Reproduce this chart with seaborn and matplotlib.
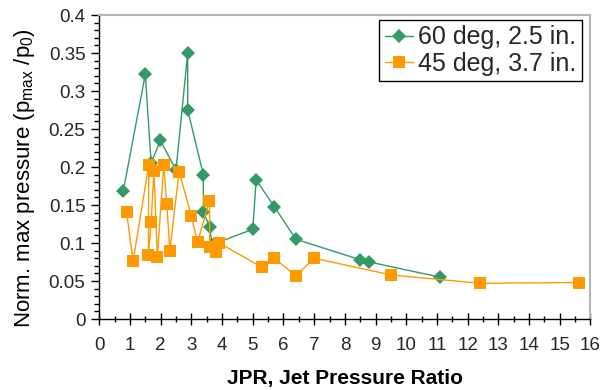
import matplotlib
matplotlib.use("Agg")
import matplotlib.pyplot as plt
from matplotlib.ticker import MultipleLocator, FixedLocator, FixedFormatter
import numpy as np
import pandas as pd
import seaborn as sns

# Series: normalized maximum pressure versus jet pressure ratio
series_names = ["60 deg, 2.5 in.", "45 deg, 3.7 in."]

jpr_60 = [0.78, 1.50, 1.69, 1.99, 2.50, 2.88, 2.88, 3.39, 3.39, 3.60, 3.67,
          5.00, 5.11, 5.70, 6.40, 8.50, 8.80, 11.11]
p_60 = [0.168, 0.322, 0.205, 0.235, 0.196, 0.350, 0.275, 0.190, 0.141, 0.121,
        0.098, 0.118, 0.183, 0.148, 0.105, 0.078, 0.075, 0.055]

jpr_45 = [0.89, 1.10, 1.61, 1.60, 1.69, 1.78, 1.89, 2.10, 2.20, 2.30, 2.60,
          3.00, 3.20, 3.59, 3.60, 3.80, 3.91, 5.30, 5.70, 6.40, 7.00, 9.50,
          12.41, 15.62]
p_45 = [0.141, 0.076, 0.202, 0.084, 0.128, 0.195, 0.081, 0.203, 0.151, 0.090,
        0.194, 0.136, 0.101, 0.155, 0.095, 0.088, 0.100, 0.068, 0.080, 0.057,
        0.080, 0.058, 0.047, 0.048]

x_ticks = list(range(0, 17))
x_tick_labels = [str(v) for v in x_ticks]
y_ticks = [0, 0.05, 0.1, 0.15, 0.2, 0.25, 0.3, 0.35, 0.4]
y_tick_labels = ["0", "0.05", "0.1", "0.15", "0.2", "0.25", "0.3", "0.35", "0.4"]

colors = {series_names[0]: "#339966", series_names[1]: "#FF9900"}
markers = {series_names[0]: "D", series_names[1]: "s"}

df = pd.concat([
    pd.DataFrame({"series": series_names[0], "jpr": jpr_60, "p": p_60,
                  "order": np.arange(len(jpr_60))}),
    pd.DataFrame({"series": series_names[1], "jpr": jpr_45, "p": p_45,
                  "order": np.arange(len(jpr_45))}),
], ignore_index=True)

sns.set_theme(style="white")
plt.rcParams["font.family"] = ["Liberation Sans", "DejaVu Sans"]
plt.rcParams["mathtext.fontset"] = "custom"
plt.rcParams["mathtext.rm"] = "Liberation Sans"
plt.rcParams["mathtext.it"] = "Liberation Sans"

fig = plt.figure(figsize=(6.09, 3.90), dpi=100)
ax = fig.add_axes([0.163, 0.182, 0.8066, 0.7795])

sizes = {series_names[0]: 7.5, series_names[1]: 8.5}
for name in series_names:
    sub = df[df["series"] == name].sort_values("order")
    sns.lineplot(data=sub, x="jpr", y="p", ax=ax, sort=False, estimator=None,
                 color=colors[name], marker=markers[name],
                 markersize=sizes[name], markeredgewidth=0, linewidth=1.0,
                 label=name)

ax.set_xlim(0, 16)
ax.set_ylim(0, 0.4)
ax.xaxis.set_major_locator(FixedLocator(x_ticks))
ax.xaxis.set_major_formatter(FixedFormatter(x_tick_labels))
ax.xaxis.set_minor_locator(MultipleLocator(0.5))
ax.yaxis.set_major_locator(FixedLocator(y_ticks))
ax.yaxis.set_major_formatter(FixedFormatter(y_tick_labels))
ax.yaxis.set_minor_locator(MultipleLocator(0.01))

ax.tick_params(axis="x", which="major", direction="inout", length=9,
               width=1, color="black", labelsize=13.5, pad=8.5, bottom=True)
ax.tick_params(axis="x", which="minor", direction="inout", length=5,
               width=1, color="black", bottom=True)
ax.tick_params(axis="y", which="major", direction="out", length=6,
               width=1, color="black", labelsize=13.5, pad=4, left=True)
ax.tick_params(axis="y", which="minor", direction="out", length=3.5,
               width=1, color="black", left=True)

for side in ("left", "bottom"):
    ax.spines[side].set_color("black")
    ax.spines[side].set_linewidth(1.0)
for side in ("top", "right"):
    ax.spines[side].set_color("#b4b4b4")
    ax.spines[side].set_linewidth(1.5)

ax.set_xlabel("JPR, Jet Pressure Ratio", fontsize=15, fontweight="bold",
              color="black")
ax.xaxis.label.set_va("bottom")
ax.xaxis.set_label_coords(0.5, -0.228)
ax.set_ylabel(r"Norm. max pressure (p$_{\mathregular{max}}$ /p$_{\mathregular{0}}$)",
              fontsize=16, color="black")
ax.yaxis.set_label_coords(-0.127, 0.465)

leg = ax.legend(loc="upper right", bbox_to_anchor=(0.983, 0.984),
                fontsize=18, frameon=True, fancybox=False, framealpha=1,
                edgecolor="black", borderpad=0.22, labelspacing=0.1,
                handlelength=1.15, handletextpad=0.2, borderaxespad=0)
leg.get_frame().set_linewidth(1.0)

fig.savefig("out.png", dpi=100, facecolor="white")
